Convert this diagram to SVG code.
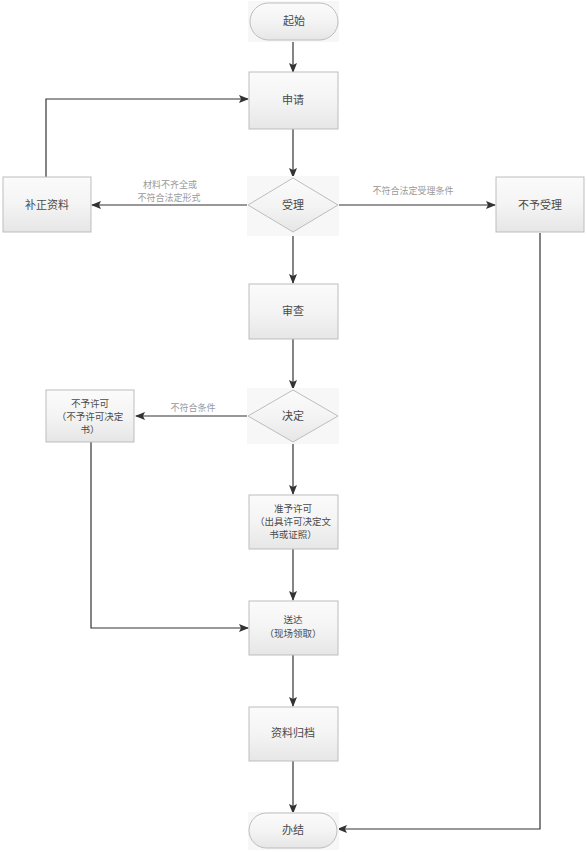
<svg xmlns="http://www.w3.org/2000/svg" width="587" height="852" viewBox="0 0 587 852">
<defs>
<linearGradient id="g" x1="0" y1="0" x2="0" y2="1">
<stop offset="0" stop-color="#fbfbfb"/>
<stop offset="0.5" stop-color="#f4f4f4"/>
<stop offset="1" stop-color="#e6e6e6"/>
</linearGradient>
<marker id="a" markerWidth="10" markerHeight="8" refX="9" refY="4" orient="auto" markerUnits="userSpaceOnUse">
<path d="M0,0 L10,4 L0,8 L2,4 Z" fill="#333"/>
</marker>
</defs>
<style>
.box{fill:url(#g);stroke:#bdbdbd;stroke-width:1}
.bg{fill:#f7f7f7}
.dia{fill:url(#g);stroke:#bdbdbd;stroke-width:1}
.t{font-family:"Noto Sans CJK SC","Liberation Sans",sans-serif;font-size:11px;fill:#4a4a4a;text-anchor:middle}
.m{font-size:9.5px}
.lbl{font-family:"Noto Sans CJK SC","Liberation Sans",sans-serif;font-size:9px;fill:#999;text-anchor:middle}
.c{fill:none;stroke:#333;stroke-width:1.2}
</style>
<rect width="587" height="852" fill="#fff"/>
<g id="connectors">
<path class="c" d="M293,41 V72" marker-end="url(#a)"/>
<path class="c" d="M293,129 V177" marker-end="url(#a)"/>
<path class="c" d="M249,205 H92" marker-end="url(#a)"/>
<path class="c" d="M46,177 V99 H248" marker-end="url(#a)"/>
<path class="c" d="M338,205 H495" marker-end="url(#a)"/>
<path class="c" d="M540,233 V829 H338" marker-end="url(#a)"/>
<path class="c" d="M293,232 V283" marker-end="url(#a)"/>
<path class="c" d="M293,339 V389" marker-end="url(#a)"/>
<path class="c" d="M249,416 H136" marker-end="url(#a)"/>
<path class="c" d="M91,442 V628 H248" marker-end="url(#a)"/>
<path class="c" d="M293,442 V494" marker-end="url(#a)"/>
<path class="c" d="M293,549 V600" marker-end="url(#a)"/>
<path class="c" d="M293,655 V706" marker-end="url(#a)"/>
<path class="c" d="M293,761 V813" marker-end="url(#a)"/>
<text class="lbl" x="170" y="188">材料不齐全或</text>
<text class="lbl" x="169" y="201">不符合法定形式</text>
<text class="lbl" x="413" y="194">不符合法定受理条件</text>
<text class="lbl" x="193" y="411">不符合条件</text>
</g>
<g id="start">
<rect class="bg" x="248" y="1" width="91" height="41"/>
<rect class="box" x="250" y="3" width="88" height="37" rx="18.5"/>
<text class="t" x="294" y="25">起始</text>
</g>
<g id="apply">
<rect class="box" x="249" y="72" width="89" height="57"/>
<text class="t" x="293" y="104">申请</text>
</g>
<g id="accept">
<rect class="bg" x="247" y="176" width="92" height="60"/>
<path class="dia" d="M293,178 L338,205 L293,232 L248,205 Z"/>
<text class="t" x="293" y="209">受理</text>
</g>
<g id="supplement">
<rect class="box" x="3" y="177" width="88" height="55"/>
<text class="t" x="47" y="209">补正资料</text>
</g>
<g id="reject">
<rect class="box" x="496" y="177" width="88" height="55"/>
<text class="t" x="540" y="209">不予受理</text>
</g>
<g id="review">
<rect class="box" x="249" y="284" width="89" height="55"/>
<text class="t" x="293" y="315">审查</text>
</g>
<g id="decide">
<rect class="bg" x="247" y="388" width="92" height="56"/>
<path class="dia" d="M293,390 L338,416 L293,442 L248,416 Z"/>
<text class="t" x="293" y="420">决定</text>
</g>
<g id="deny">
<rect class="box" x="46" y="390" width="88" height="52"/>
<text class="t m" x="90" y="407">不予许可</text>
<text class="t m" x="90" y="420">（不予许可决定</text>
<text class="t m" x="90" y="433">书）</text>
</g>
<g id="grant">
<rect class="box" x="249" y="495" width="89" height="54"/>
<text class="t m" x="293" y="512">准予许可</text>
<text class="t m" x="293" y="525">（出具许可决定文</text>
<text class="t m" x="293" y="538">书或证照）</text>
</g>
<g id="deliver">
<rect class="box" x="249" y="601" width="89" height="54"/>
<text class="t m" x="293" y="623">送达</text>
<text class="t m" x="293" y="637">（现场领取）</text>
</g>
<g id="archive">
<rect class="box" x="249" y="707" width="89" height="54"/>
<text class="t" x="293" y="737">资料归档</text>
</g>
<g id="end">
<rect class="bg" x="248" y="812" width="91" height="38"/>
<rect class="box" x="249" y="813" width="88" height="35" rx="17.5"/>
<text class="t" x="293" y="834">办结</text>
</g>
</svg>
